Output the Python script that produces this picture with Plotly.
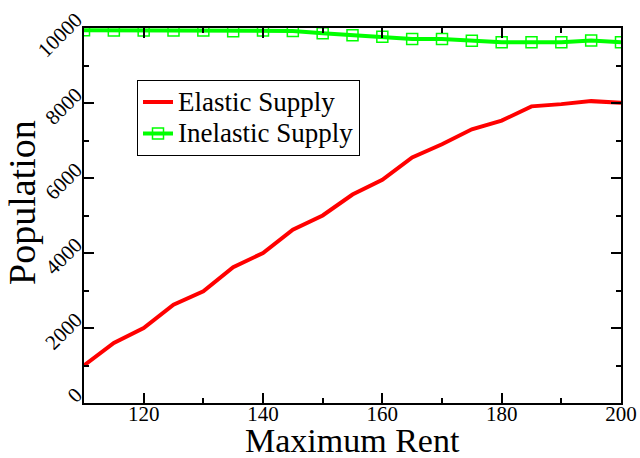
import plotly.graph_objects as go

max_rent = [110, 115, 120, 125, 130, 135, 140, 145, 150, 155, 160, 165, 170, 175, 180, 185, 190, 195, 200]
elastic = [1000, 1600, 2000, 2620, 2980, 3620, 4000, 4620, 5000, 5560, 5950, 6550, 6900, 7300, 7530, 7910, 7970, 8050, 8010]
inelastic = [9940, 9935, 9935, 9935, 9935, 9915, 9935, 9920, 9860, 9810, 9770, 9710, 9710, 9660, 9620, 9620, 9620, 9670, 9620]

x_ticks = [120, 140, 160, 180, 200]
y_ticks = [0, 2000, 4000, 6000, 8000, 10000]
y_tick_labels = ["0", "2000", "4000", "6000", "8000", "10000"]
series_names = ["Elastic Supply", "Inelastic Supply"]
x_title = "Maximum Rent"
y_title = "Population"

font_family = "Liberation Serif"
legend_span = '<span style="font-size:27px">{}</span>'

fig = go.Figure()
fig.add_trace(go.Scatter(
    x=max_rent, y=elastic, mode="lines", name=legend_span.format(series_names[0]),
    line=dict(color="#ff0000", width=4),
))
fig.add_trace(go.Scatter(
    x=max_rent, y=inelastic, mode="lines+markers", name=legend_span.format(series_names[1]),
    line=dict(color="#00ff00", width=4),
    marker=dict(symbol="square-open", size=11, color="#00ff00", line=dict(width=1.5, color="#00ff00")),
))

axis_common = dict(
    showgrid=False, zeroline=False, showline=True, linecolor="black", linewidth=1.5,
    mirror="ticks", ticks="inside", ticklen=10, tickwidth=1.5, tickcolor="black",
    automargin=False, ticklabeloverflow="allow",
)

fig.update_layout(
    width=640, height=458,
    margin=dict(l=84, r=19, t=28, b=55),
    paper_bgcolor="white", plot_bgcolor="white",
    font=dict(family=font_family, color="black"),
    showlegend=True,
    legend=dict(
        x=0.0987, y=0.861, xanchor="left", yanchor="top",
        bordercolor="black", borderwidth=1, bgcolor="white",
        font=dict(family=font_family, size=22, color="black"),
        tracegroupgap=0,
    ),
    xaxis=dict(
        **axis_common, range=[110, 200], tickvals=x_ticks,
        tickfont=dict(family=font_family, size=21, color="black"),
        ticklabelstandoff=-9,
        minor=dict(ticks="inside", ticklen=5, tickwidth=1.5, tickcolor="black", dtick=10, tick0=110),
    ),
    yaxis=dict(
        **axis_common, range=[0, 10000], tickvals=y_ticks, ticktext=y_tick_labels, tickangle=-45,
        tickfont=dict(family=font_family, size=21, color="black"),
        ticklabelshift=-11, ticklabelstandoff=2,
        minor=dict(ticks="inside", ticklen=5, tickwidth=1.5, tickcolor="black", dtick=1000, tick0=0),
    ),
    annotations=[
        dict(text=x_title, xref="paper", yref="paper", x=0.5, y=-0.099,
             xanchor="center", yanchor="middle", showarrow=False,
             font=dict(family=font_family, size=34, color="black")),
        dict(text=y_title, xref="paper", yref="paper", x=-0.1155, y=0.536,
             xanchor="center", yanchor="middle", showarrow=False, textangle=-90,
             font=dict(family=font_family, size=38, color="black")),
    ],
)

fig.write_html("out.html")
